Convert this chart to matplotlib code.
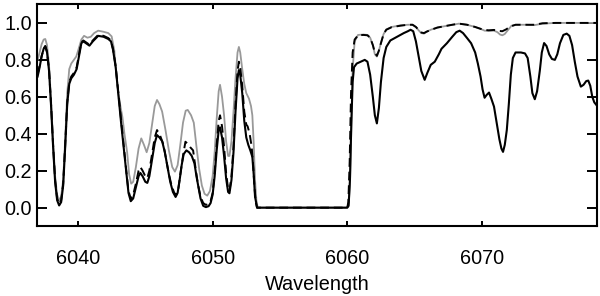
import matplotlib
matplotlib.use("Agg")
import matplotlib.pyplot as plt

# black solid: observed spectrum
wl_obs = [6037.0, 6037.15, 6037.3, 6037.45, 6037.57, 6037.7, 6037.85, 6038.0, 6038.15, 6038.3,
          6038.45, 6038.6, 6038.75, 6038.9, 6039.05, 6039.2, 6039.35, 6039.5, 6039.7, 6039.9,
          6040.1, 6040.25, 6040.4, 6040.6, 6040.85, 6041.1, 6041.5, 6041.9, 6042.25, 6042.45,
          6042.6, 6042.8, 6043.0, 6043.2, 6043.4, 6043.6, 6043.75, 6043.92, 6044.1, 6044.3,
          6044.5, 6044.63, 6044.8, 6045.0, 6045.15, 6045.3, 6045.5, 6045.7, 6045.87, 6046.05,
          6046.25, 6046.45, 6046.65, 6046.85, 6047.05, 6047.25, 6047.4, 6047.55, 6047.7, 6047.85,
          6048.05, 6048.25, 6048.45, 6048.65, 6048.8, 6048.95, 6049.1, 6049.3, 6049.5, 6049.7,
          6049.85, 6050.0, 6050.15, 6050.3, 6050.45, 6050.55, 6050.7, 6050.85, 6051.0, 6051.15,
          6051.25, 6051.4, 6051.55, 6051.7, 6051.85, 6051.95, 6052.05, 6052.2, 6052.35, 6052.5,
          6052.65, 6052.8, 6052.95, 6053.05, 6053.15, 6053.3, 6060.0, 6060.1, 6060.2, 6060.3,
          6060.4, 6060.5, 6060.7, 6061.0, 6061.3, 6061.5, 6061.7, 6061.9, 6062.05, 6062.2,
          6062.35, 6062.5, 6062.7, 6062.9, 6063.2, 6063.7, 6064.2, 6064.5, 6064.7, 6064.9,
          6065.1, 6065.3, 6065.5, 6065.75, 6065.95, 6066.2, 6066.5, 6066.8, 6067.0, 6067.4,
          6067.8, 6068.1, 6068.35, 6068.6, 6068.9, 6069.2, 6069.5, 6069.7, 6069.9, 6070.05,
          6070.2, 6070.35, 6070.53, 6070.7, 6070.9, 6071.1, 6071.3, 6071.45, 6071.57, 6071.7,
          6071.85, 6072.0, 6072.15, 6072.3, 6072.5, 6072.9, 6073.2, 6073.4, 6073.6, 6073.75,
          6073.93, 6074.1, 6074.3, 6074.45, 6074.62, 6074.8, 6075.0, 6075.2, 6075.42, 6075.6,
          6075.8, 6076.05, 6076.3, 6076.5, 6076.7, 6076.9, 6077.1, 6077.35, 6077.55, 6077.75,
          6077.9, 6078.05, 6078.2, 6078.35, 6078.6]
flux_obs = [0.71, 0.76, 0.82, 0.86, 0.873, 0.84, 0.74, 0.55, 0.33, 0.14,
            0.04, 0.012, 0.03, 0.12, 0.33, 0.56, 0.67, 0.70, 0.72, 0.75,
            0.83, 0.89, 0.90, 0.89, 0.877, 0.90, 0.93, 0.925, 0.913, 0.90,
            0.855, 0.76, 0.61, 0.46, 0.32, 0.18, 0.08, 0.035, 0.05, 0.11,
            0.17, 0.188, 0.17, 0.14, 0.134, 0.17, 0.26, 0.35, 0.393, 0.38,
            0.36, 0.30, 0.22, 0.14, 0.085, 0.058, 0.08, 0.15, 0.23, 0.29,
            0.31, 0.30, 0.28, 0.24, 0.17, 0.11, 0.05, 0.01, 0.003, 0.008,
            0.025, 0.07, 0.17, 0.31, 0.42, 0.435, 0.38, 0.28, 0.16, 0.085,
            0.078, 0.15, 0.30, 0.52, 0.70, 0.745, 0.72, 0.62, 0.47, 0.38,
            0.34, 0.31, 0.275, 0.18, 0.06, 0.0, 0.0, 0.01, 0.15, 0.45,
            0.68, 0.76, 0.78, 0.79, 0.80, 0.79, 0.72, 0.60, 0.50, 0.456,
            0.54, 0.68, 0.81, 0.87, 0.905, 0.925, 0.945, 0.955, 0.963, 0.955,
            0.90, 0.82, 0.74, 0.692, 0.73, 0.773, 0.79, 0.83, 0.86, 0.89,
            0.925, 0.95, 0.958, 0.945, 0.918, 0.89, 0.84, 0.78, 0.71, 0.64,
            0.595, 0.61, 0.623, 0.59, 0.547, 0.46, 0.37, 0.32, 0.302, 0.34,
            0.42, 0.56, 0.72, 0.81, 0.84, 0.84, 0.835, 0.81, 0.71, 0.62,
            0.587, 0.63, 0.74, 0.84, 0.891, 0.875, 0.83, 0.805, 0.80, 0.83,
            0.89, 0.935, 0.942, 0.93, 0.88, 0.79, 0.71, 0.655, 0.665, 0.685,
            0.688, 0.66, 0.60, 0.57, 0.547]

# grey solid
wl_grey = [6037.0, 6037.15, 6037.3, 6037.45, 6037.57, 6037.7, 6037.85, 6038.0, 6038.15, 6038.3,
           6038.45, 6038.6, 6038.75, 6038.9, 6039.05, 6039.2, 6039.35, 6039.5, 6039.7, 6039.87,
           6040.05, 6040.25, 6040.45, 6040.7, 6040.95, 6041.2, 6041.5, 6041.9, 6042.25, 6042.5,
           6042.7, 6042.85, 6043.0, 6043.15, 6043.3, 6043.45, 6043.65, 6043.8, 6043.95, 6044.1,
           6044.3, 6044.5, 6044.7, 6044.9, 6045.1, 6045.3, 6045.5, 6045.7, 6045.87, 6046.05,
           6046.25, 6046.5, 6046.75, 6047.0, 6047.2, 6047.4, 6047.6, 6047.8, 6048.0, 6048.15,
           6048.4, 6048.6, 6048.8, 6049.0, 6049.2, 6049.4, 6049.6, 6049.8, 6050.0, 6050.15,
           6050.3, 6050.45, 6050.55, 6050.7, 6050.85, 6051.0, 6051.15, 6051.25, 6051.4, 6051.55,
           6051.7, 6051.85, 6051.95, 6052.05, 6052.2, 6052.35, 6052.5, 6052.7, 6052.85, 6052.95,
           6053.05, 6053.15, 6053.25, 6053.35, 6060.0, 6060.1, 6060.2, 6060.3, 6060.4, 6060.55,
           6060.8, 6061.2, 6061.5, 6061.7, 6061.9, 6062.05, 6062.2, 6062.35, 6062.5, 6062.7,
           6062.9, 6063.3, 6063.96, 6064.5, 6064.85, 6065.1, 6065.3, 6065.5, 6065.7, 6065.9,
           6066.2, 6066.7, 6067.2, 6067.8, 6068.3, 6068.9, 6069.5, 6069.9, 6070.2, 6070.5,
           6070.9, 6071.15, 6071.35, 6071.52, 6071.7, 6071.9, 6072.2, 6072.5, 6073.2, 6073.9,
           6074.5, 6075.5, 6078.6]
flux_grey = [0.80, 0.84, 0.885, 0.91, 0.913, 0.88, 0.77, 0.58, 0.36, 0.17,
             0.07, 0.04, 0.06, 0.15, 0.37, 0.62, 0.75, 0.78, 0.80, 0.818,
             0.86, 0.91, 0.93, 0.92, 0.925, 0.945, 0.958, 0.952, 0.945, 0.927,
             0.85, 0.72, 0.62, 0.55, 0.49, 0.40, 0.30, 0.18, 0.13, 0.14,
             0.22, 0.32, 0.375, 0.34, 0.30, 0.35, 0.45, 0.55, 0.583, 0.56,
             0.52, 0.42, 0.31, 0.22, 0.195, 0.23, 0.34, 0.46, 0.525, 0.529,
             0.50, 0.46, 0.33, 0.21, 0.12, 0.075, 0.065, 0.09, 0.17, 0.30,
             0.48, 0.63, 0.665, 0.60, 0.50, 0.36, 0.28, 0.28, 0.36, 0.52,
             0.70, 0.84, 0.87, 0.84, 0.75, 0.67, 0.62, 0.59, 0.55, 0.50,
             0.35, 0.15, 0.04, 0.0, 0.0, 0.02, 0.12, 0.42, 0.75, 0.90,
             0.935, 0.937, 0.935, 0.92, 0.88, 0.83, 0.818, 0.85, 0.891, 0.94,
             0.965, 0.978, 0.987, 0.99, 0.99, 0.978, 0.96, 0.945, 0.942, 0.952,
             0.963, 0.975, 0.982, 0.99, 0.996, 0.99, 0.978, 0.968, 0.958, 0.957,
             0.958, 0.95, 0.937, 0.933, 0.94, 0.958, 0.985, 0.99, 0.99, 0.988,
             0.996, 1.0, 1.0]

# black dashed
wl_dash = [6037.0, 6037.15, 6037.3, 6037.45, 6037.57, 6037.7, 6037.85, 6038.0, 6038.15, 6038.3,
           6038.45, 6038.6, 6038.75, 6038.9, 6039.05, 6039.2, 6039.35, 6039.5, 6039.7, 6039.9,
           6040.1, 6040.25, 6040.4, 6040.6, 6040.85, 6041.1, 6041.5, 6041.9, 6042.25, 6042.45,
           6042.6, 6042.8, 6043.0, 6043.2, 6043.4, 6043.6, 6043.75, 6043.92, 6044.1, 6044.3,
           6044.5, 6044.63, 6044.8, 6045.0, 6045.15, 6045.3, 6045.5, 6045.7, 6045.87, 6046.1,
           6046.35, 6046.55, 6046.74, 6046.95, 6047.15, 6047.3, 6047.45, 6047.6, 6047.8, 6047.98,
           6048.15, 6048.35, 6048.55, 6048.72, 6048.9, 6049.1, 6049.3, 6049.5, 6049.7, 6049.85,
           6050.0, 6050.15, 6050.3, 6050.45, 6050.55, 6050.7, 6050.85, 6051.0, 6051.15, 6051.25,
           6051.4, 6051.55, 6051.7, 6051.85, 6051.95, 6052.05, 6052.2, 6052.35, 6052.5, 6052.6,
           6052.75, 6052.9, 6053.0, 6053.1, 6053.2, 6053.3, 6060.0, 6060.08, 6060.18, 6060.28,
           6060.4, 6060.55, 6060.8, 6061.2, 6061.5, 6061.7, 6061.9, 6062.05, 6062.2, 6062.35,
           6062.5, 6062.7, 6062.9, 6063.3, 6063.96, 6064.5, 6064.85, 6065.1, 6065.3, 6065.5,
           6065.7, 6065.9, 6066.2, 6066.7, 6067.2, 6067.8, 6068.3, 6068.9, 6069.5, 6069.9,
           6070.2, 6070.5, 6070.9, 6071.2, 6071.52, 6071.8, 6072.1, 6072.5, 6073.2, 6073.9,
           6074.5, 6075.5, 6078.6]
flux_dash = [0.72, 0.77, 0.82, 0.86, 0.875, 0.845, 0.745, 0.56, 0.34, 0.15,
             0.05, 0.02, 0.04, 0.13, 0.34, 0.57, 0.68, 0.71, 0.73, 0.76,
             0.84, 0.895, 0.905, 0.895, 0.882, 0.905, 0.935, 0.93, 0.918, 0.905,
             0.86, 0.765, 0.62, 0.47, 0.33, 0.19, 0.09, 0.048, 0.07, 0.13,
             0.20, 0.22, 0.20, 0.17, 0.16, 0.20, 0.29, 0.38, 0.42, 0.39,
             0.34, 0.26, 0.185, 0.12, 0.08, 0.07, 0.10, 0.18, 0.28, 0.357,
             0.345, 0.326, 0.31, 0.22, 0.13, 0.06, 0.025, 0.015, 0.02, 0.035,
             0.08, 0.19, 0.34, 0.47, 0.50, 0.44, 0.33, 0.19, 0.10, 0.09,
             0.17, 0.33, 0.56, 0.74, 0.79, 0.76, 0.66, 0.52, 0.45, 0.44,
             0.40, 0.33, 0.24, 0.12, 0.03, 0.0, 0.0, 0.03, 0.25, 0.62,
             0.84, 0.91, 0.933, 0.935, 0.933, 0.92, 0.88, 0.84, 0.822, 0.85,
             0.89, 0.94, 0.963, 0.977, 0.985, 0.99, 0.99, 0.978, 0.962, 0.948,
             0.945, 0.953, 0.962, 0.975, 0.982, 0.99, 0.996, 0.99, 0.978, 0.968,
             0.962, 0.96, 0.962, 0.957, 0.955, 0.965, 0.98, 0.99, 0.99, 0.99,
             0.998, 1.0, 1.0]

x_ticks = [6040, 6050, 6060, 6070]
y_ticks = [0.0, 0.2, 0.4, 0.6, 0.8, 1.0]

plt.rcParams['font.family'] = ['Liberation Sans', 'DejaVu Sans']

fig = plt.figure(figsize=(6.0, 2.96), dpi=100)
ax = fig.add_axes([0.062, 0.236, 0.933, 0.749])

ax.plot(wl_grey, flux_grey, color='#999999', lw=1.3)
ax.plot(wl_dash, flux_dash, color='black', lw=1.4, ls=(0, (4.5, 2.5)))
ax.plot(wl_obs, flux_obs, color='black', lw=1.5)

ax.set_xlim(6036.97, 6078.55)
ax.set_ylim(-0.1, 1.1)
ax.set_xticks(x_ticks)
ax.set_yticks(y_ticks)
ax.set_yticklabels([f"{v:.1f}" for v in y_ticks])

ax.tick_params(axis='both', direction='in', top=True, right=True, labelsize=14.3, width=1.4)
ax.tick_params(axis='y', length=7.5, pad=4)
ax.tick_params(axis='x', length=3.5, pad=16.5)
for s in ax.spines.values():
    s.set_linewidth(1.5)

ax.set_xlabel("Wavelength", fontsize=14.3, labelpad=5)

fig.savefig("out.png", dpi=100)
